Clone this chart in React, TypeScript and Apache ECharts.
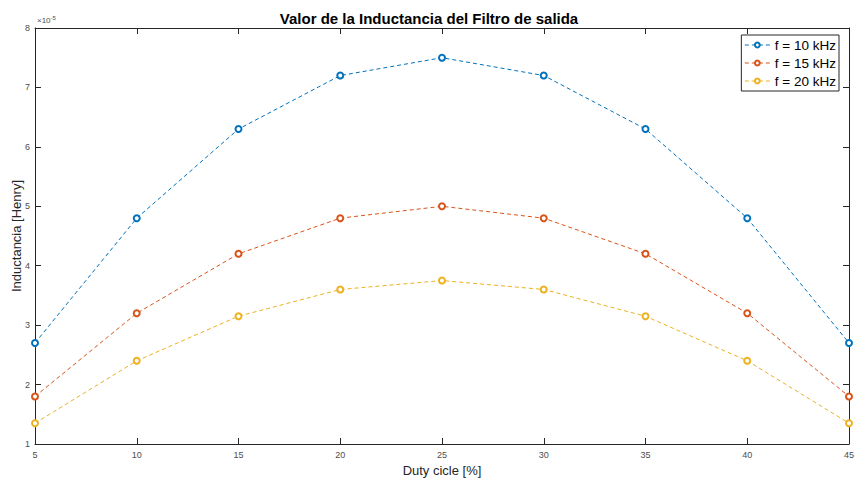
import React, { useEffect, useRef } from "react";
import * as echarts from "echarts";

const duty = [5, 10, 15, 20, 25, 30, 35, 40, 45];
const f10 = [2.7, 4.8, 6.3, 7.2, 7.5, 7.2, 6.3, 4.8, 2.7];
const f15 = [1.8, 3.2, 4.2, 4.8, 5.0, 4.8, 4.2, 3.2, 1.8];
const f20 = [1.35, 2.4, 3.15, 3.6, 3.75, 3.6, 3.15, 2.4, 1.35];
const seriesNames = ["f = 10 kHz", "f = 15 kHz", "f = 20 kHz"];
const seriesColors = ["#0072BD", "#D95319", "#EDB120"];

const FONT = "Liberation Sans, Arial, Helvetica, sans-serif";

export default function App() {
  const ref = useRef<HTMLDivElement>(null);
  useEffect(() => {
    if (!ref.current) return;
    const chart = echarts.init(ref.current, undefined, { renderer: "svg" });
    const values = [f10, f15, f20];
    const axisCol = "#262626";
    const tickAxisCommon = {
      axisLine: { show: true, lineStyle: { color: axisCol, width: 1 } },
      axisTick: { show: true, inside: true, length: 6, lineStyle: { color: axisCol } },
      splitLine: { show: false },
    };
    chart.setOption({
      animation: false,
      backgroundColor: "#ffffff",
      title: {
        text: "Valor de la Inductancia del Filtro de salida",
        left: "center",
        top: 6,
        textStyle: { fontFamily: FONT, fontSize: 15, fontWeight: "bold", color: "#000" },
      },
      grid: { left: 35, right: 9, top: 28, bottom: 38, outerBoundsMode: "none", containLabel: false },
      legend: {
        orient: "vertical",
        right: 19,
        top: 35,
        backgroundColor: "#fff",
        borderColor: axisCol,
        borderWidth: 1,
        borderRadius: 0,
        padding: [3, 3, 3, 3],
        itemGap: 4,
        itemWidth: 25,
        itemHeight: 6,
        lineStyle: { width: 1 },
        itemStyle: { borderWidth: 1 },
        textStyle: { fontFamily: FONT, fontSize: 13.5, color: "#000" },
        data: seriesNames,
      },
      xAxis: [
        {
          type: "value",
          min: 5,
          max: 45,
          interval: 5,
          position: "bottom",
          name: "Duty cicle [%]",
          nameLocation: "middle",
          nameGap: 20,
          nameMoveOverlap: false,
          nameTextStyle: { fontFamily: FONT, fontSize: 13, color: axisCol },
          axisLabel: { fontFamily: FONT, fontSize: 9, color: "#4d4d4d", margin: 6 },
          ...tickAxisCommon,
        },
        {
          type: "value",
          min: 5,
          max: 45,
          interval: 5,
          position: "top",
          axisLabel: { show: false },
          ...tickAxisCommon,
        },
      ],
      yAxis: [
        {
          type: "value",
          min: 1,
          max: 8,
          interval: 1,
          position: "left",
          name: "Inductancia [Henry]",
          nameLocation: "middle",
          nameGap: 12,
          nameMoveOverlap: false,
          nameTextStyle: { fontFamily: FONT, fontSize: 13, color: axisCol },
          axisLabel: { fontFamily: FONT, fontSize: 9, color: "#4d4d4d", margin: 5 },
          ...tickAxisCommon,
        },
        {
          type: "value",
          min: 1,
          max: 8,
          interval: 1,
          position: "right",
          axisLabel: { show: false },
          ...tickAxisCommon,
        },
      ],
      graphic: [
        {
          type: "text",
          left: 37,
          top: 15,
          style: {
            text: "{a|×10}{b|-5}",
            rich: {
              a: { fontFamily: FONT, fontSize: 8, fill: "#4d4d4d" },
              b: { fontFamily: FONT, fontSize: 6, fill: "#4d4d4d", verticalAlign: "top", padding: [0, 0, 5, 0] },
            },
          },
        },
      ],
      series: values.map((vals, i) => ({
        name: seriesNames[i],
        type: "line",
        xAxisIndex: 0,
        yAxisIndex: 0,
        data: duty.map((d, j) => [d, vals[j]]),
        symbol: "emptyCircle",
        symbolSize: 6,
        color: seriesColors[i],
        lineStyle: { color: seriesColors[i], width: 1, type: [4, 3] },
        itemStyle: { color: seriesColors[i], borderColor: seriesColors[i], borderWidth: 1 },
        clip: false,
        z: 3 - i,
      })),
    });
    return () => chart.dispose();
  }, []);
  return (
    <div
      ref={ref}
      style={{ position: "absolute", left: 0, top: 0, width: 858, height: 482 }}
    />
  );
}
